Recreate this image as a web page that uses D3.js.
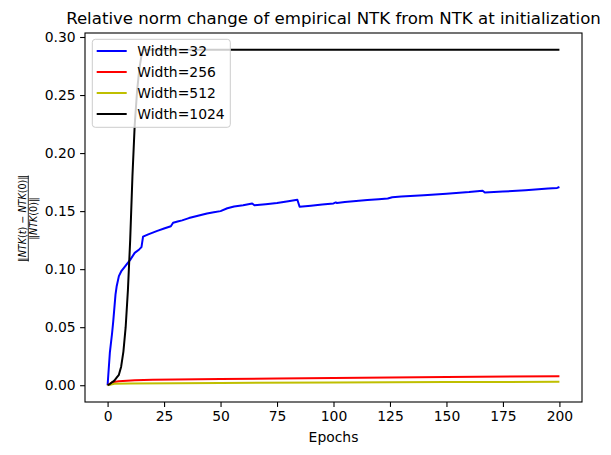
<!DOCTYPE html>
<html>
<head>
<meta charset="utf-8">
<script src="https://cdn.jsdelivr.net/npm/d3@7"></script>
<style>
body{margin:0;background:#fff;}
text{font-family:"DejaVu Sans",sans-serif;}
</style>
</head>
<body>
<div class="box"></div>
<script>
// data
const epochs32=[0,1,2,2.5,3.5,4,5,6,8,10,12,14,15,15.7,18,22,25,28,29,31,33,36,40,44,47,50,53,56,60,64,65,70,75,80,84,85,90,95,100,101,101.5,105,110,115,120,124,126,130,140,150,160,166,167,175,185,195,199,200];
const width32=[0,0.028,0.045,0.055,0.078,0.085,0.094,0.098,0.103,0.108,0.114,0.117,0.119,0.128,0.130,0.133,0.135,0.137,0.140,0.141,0.142,0.144,0.146,0.148,0.149,0.150,0.1525,0.154,0.155,0.1565,0.155,0.156,0.157,0.1585,0.1598,0.1537,0.1547,0.1557,0.1566,0.1575,0.157,0.1579,0.1587,0.1595,0.1603,0.1609,0.1620,0.1625,0.1637,0.1650,0.1664,0.1675,0.1660,0.1668,0.1680,0.1695,0.1700,0.1708];
const epochs256=[0,2,5,12,20,30,50,75,100,150,200];
const width256=[0,0.0025,0.0035,0.0043,0.0048,0.005,0.0053,0.0058,0.0063,0.0071,0.0077];
const epochs512=[0,3,10,50,100,150,200];
const width512=[0,0.0012,0.0015,0.002,0.0024,0.0027,0.003];
const epochs1024=[0,1,2,3,4,5,6,7,8,9,10,11,12,13,14,15,16,50,100,150,200];
const width1024=[0,0.001,0.0025,0.004,0.0065,0.009,0.016,0.029,0.050,0.082,0.125,0.180,0.224,0.252,0.272,0.284,0.289,0.289,0.289,0.289,0.289];
const labels=['Width=32','Width=256','Width=512','Width=1024'];
const colors=['#0000ff','#ff0000','#bfbf00','#000000'];
const xTicks=[0,25,50,75,100,125,150,175,200];
const yTicks=[0,0.05,0.10,0.15,0.20,0.25,0.30];

const series=[[epochs32,width32],[epochs256,width256],[epochs512,width512],[epochs1024,width1024]]
  .map((s,i)=>({label:labels[i],color:colors[i],pts:s[0].map((e,j)=>[e,s[1][j]])}));

const W=611,H=455;
const margin={top:33,right:29,bottom:53,left:85};
const graphW=W-margin.left-margin.right;
const graphH=H-margin.top-margin.bottom;
const svg=d3.select('.box').append('svg').attr('width',W).attr('height',H).style('background','white');
const g=svg.append('g').attr('transform',`translate(${margin.left},${margin.top})`);

const ymax=d3.max(series,s=>d3.max(s.pts,p=>p[1]));
const x=d3.scaleLinear().domain([-10,210]).range([0,graphW]);
const y=d3.scaleLinear().domain([-0.05*ymax,1.05*ymax]).range([graphH,0]);

const line=d3.line().x(d=>x(d[0])).y(d=>y(d[1]));
g.selectAll('path.series').data(series).enter().append('path')
  .attr('class','series')
  .attr('d',d=>line(d.pts))
  .attr('fill','none').attr('stroke',d=>d.color).attr('stroke-width',2).attr('stroke-linejoin','round');

const axeX=d3.axisBottom(x).tickValues(xTicks).tickSize(4.9).tickPadding(4.5).tickFormat(d3.format('d'));
const axeY=d3.axisLeft(y).tickValues(yTicks).tickSize(4.9).tickPadding(4.5).tickFormat(d3.format('.2f'));
const gX=g.append('g').attr('transform',`translate(0,${graphH})`).call(axeX);
const gY=g.append('g').call(axeY);
[gX,gY].forEach(a=>{
  a.select('.domain').remove();
  a.selectAll('line').attr('stroke','#000').attr('stroke-width',1.1);
  a.selectAll('text').attr('fill','#000').style('font-size','13.9px');
});
g.append('rect').attr('width',graphW).attr('height',graphH).attr('fill','none').attr('stroke','#000').attr('stroke-width',1.1);

svg.append('text').attr('x',margin.left+graphW/2).attr('y',24).attr('text-anchor','middle')
  .style('font-size','16.6px').text('Relative norm change of empirical NTK from NTK at initialization');
svg.append('text').attr('x',margin.left+graphW/2).attr('y',442).attr('text-anchor','middle')
  .style('font-size','13.9px').text('Epochs');

// y label as a fraction
const yl=svg.append('g').attr('transform',`translate(28.3,${margin.top+graphH/2+1}) rotate(-90)`);
yl.append('text').attr('x',0).attr('y',-2.5).attr('text-anchor','middle').style('font-size','9.6px').style('font-family','"DejaVu Sans"')
  .html('‖<tspan font-style="italic">NTK</tspan>(<tspan font-style="italic">t</tspan>) − <tspan font-style="italic">NTK</tspan>(0)‖');
yl.append('line').attr('x1',-43).attr('x2',43).attr('y1',0).attr('y2',0).attr('stroke','#000').attr('stroke-width',0.8);
yl.append('text').attr('x',0).attr('y',8.5).attr('text-anchor','middle').style('font-size','9.6px')
  .html('‖<tspan font-style="italic">NTK</tspan>(0)‖');

// legend
const lg=g.append('g').attr('transform','translate(7.3,6.3)');
lg.append('rect').attr('width',138).attr('height',88).attr('rx',3)
  .attr('fill','white').attr('fill-opacity',0.8).attr('stroke','#cccccc').attr('stroke-width',1);
const item=lg.selectAll('g.item').data(series).enter().append('g').attr('class','item')
  .attr('transform',(d,i)=>`translate(0,${11.7+i*21})`);
item.append('line').attr('x1',4.4).attr('x2',34.4).attr('stroke',d=>d.color).attr('stroke-width',2);
item.append('text').attr('x',45).attr('y',5).style('font-size','13.9px').text(d=>d.label);
</script>
</body>
</html>
